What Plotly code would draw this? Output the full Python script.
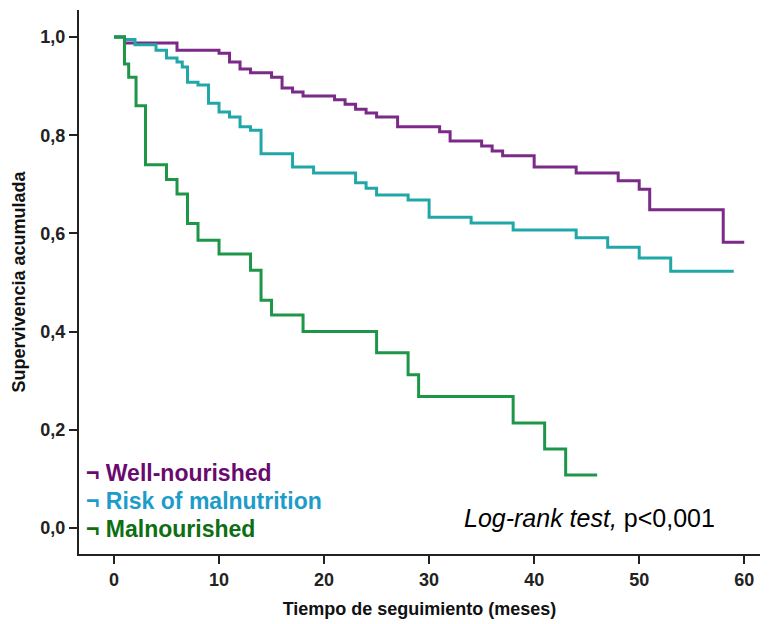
import plotly.graph_objects as go

# Well-nourished
wn_t = [0, 1, 6, 10, 11, 12, 13, 15, 16, 17, 18, 21, 22, 23, 24, 25, 27, 31, 32, 35, 36, 37, 40, 44, 48, 50, 51, 58, 60]
wn_s = [1.0, 0.988, 0.973, 0.967, 0.949, 0.935, 0.927, 0.918, 0.896, 0.888, 0.88, 0.872, 0.863, 0.853, 0.845, 0.837, 0.817, 0.807, 0.788, 0.778, 0.768, 0.758, 0.735, 0.723, 0.707, 0.69, 0.648, 0.582, 0.582]

# Risk of malnutrition
rm_t = [0, 1, 2, 4, 5, 6, 6.5, 7, 8, 9, 10, 11, 12, 13, 14, 17, 19, 23, 24, 25, 28, 30, 34, 38, 44, 47, 50, 53, 59]
rm_s = [1.0, 0.995, 0.984, 0.973, 0.957, 0.949, 0.939, 0.908, 0.902, 0.865, 0.847, 0.837, 0.817, 0.81, 0.762, 0.735, 0.723, 0.703, 0.692, 0.678, 0.668, 0.633, 0.621, 0.607, 0.591, 0.572, 0.55, 0.523, 0.523]

# Malnourished
mn_t = [0, 1, 1.4, 2.1, 3, 5, 6, 7, 8, 10, 13, 14, 15, 18, 25, 28, 29, 38, 41, 43, 46]
mn_s = [1.0, 0.945, 0.918, 0.86, 0.74, 0.71, 0.68, 0.62, 0.586, 0.558, 0.525, 0.464, 0.434, 0.40, 0.357, 0.312, 0.268, 0.214, 0.161, 0.108, 0.108]

x_ticks = [0, 10, 20, 30, 40, 50, 60]
y_ticks = [0.0, 0.2, 0.4, 0.6, 0.8, 1.0]

line_colors = ["#7B2A87", "#22A7A8", "#1E9648"]
text_colors = ["#6A0A6E", "#1E9CC9", "#0E6E12"]
labels = ["Well-nourished", "Risk of malnutrition", "Malnourished"]

FONT = "Liberation Sans, Arial"

fig = go.Figure()
for t, s, c, name in [(wn_t, wn_s, line_colors[0], labels[0]),
                      (rm_t, rm_s, line_colors[1], labels[1]),
                      (mn_t, mn_s, line_colors[2], labels[2])]:
    fig.add_trace(go.Scatter(x=t, y=s, mode="lines", line=dict(color=c, width=3, shape="hv"),
                             name=name, showlegend=False))

legend_y = [0.149, 0.097, 0.046]
for lab, col, yy in zip(labels, text_colors, legend_y):
    fig.add_annotation(xref="paper", yref="paper", x=0.008, y=yy,
                       xanchor="left", yanchor="middle", showarrow=False,
                       text="¬ " + lab,
                       font=dict(family=FONT, size=23, color=col, weight="bold"))

fig.add_annotation(xref="x", yref="y", x=57.4, y=0.02, xanchor="right", yanchor="middle",
                   showarrow=False,
                   text="<i>Log-rank test,</i> p&lt;0,001",
                   font=dict(family=FONT, size=25, color="#000000"))

axis_font = dict(family=FONT, size=18, color="#222222", weight="bold")
fig.update_layout(
    width=770, height=624,
    margin=dict(l=71, r=18, t=2, b=78),
    plot_bgcolor="white", paper_bgcolor="white",
    separators=",.",
    xaxis=dict(range=[-3.33, 61.5], tickvals=x_ticks, ticks="outside", ticklen=8, tickwidth=1.5,
               tickcolor="#222222", showline=True, linecolor="#222222", linewidth=2,
               showgrid=False, zeroline=False, tickfont=axis_font, automargin=False,
               title=dict(text="Tiempo de seguimiento (meses)", standoff=14,
                          font=dict(family=FONT, size=18, color="#111111", weight="bold"))),
    yaxis=dict(range=[-0.053, 1.055], tickvals=y_ticks, tickformat=".1f", ticks="outside", ticklen=8,
               tickwidth=1.5, tickcolor="#222222", showline=True, linecolor="#222222", linewidth=2,
               showgrid=False, zeroline=False, tickfont=axis_font, automargin=False,
               title=dict(text="Supervivencia acumulada", standoff=10,
                          font=dict(family=FONT, size=18, color="#111111", weight="bold"))),
)

fig.write_html("out.html")
